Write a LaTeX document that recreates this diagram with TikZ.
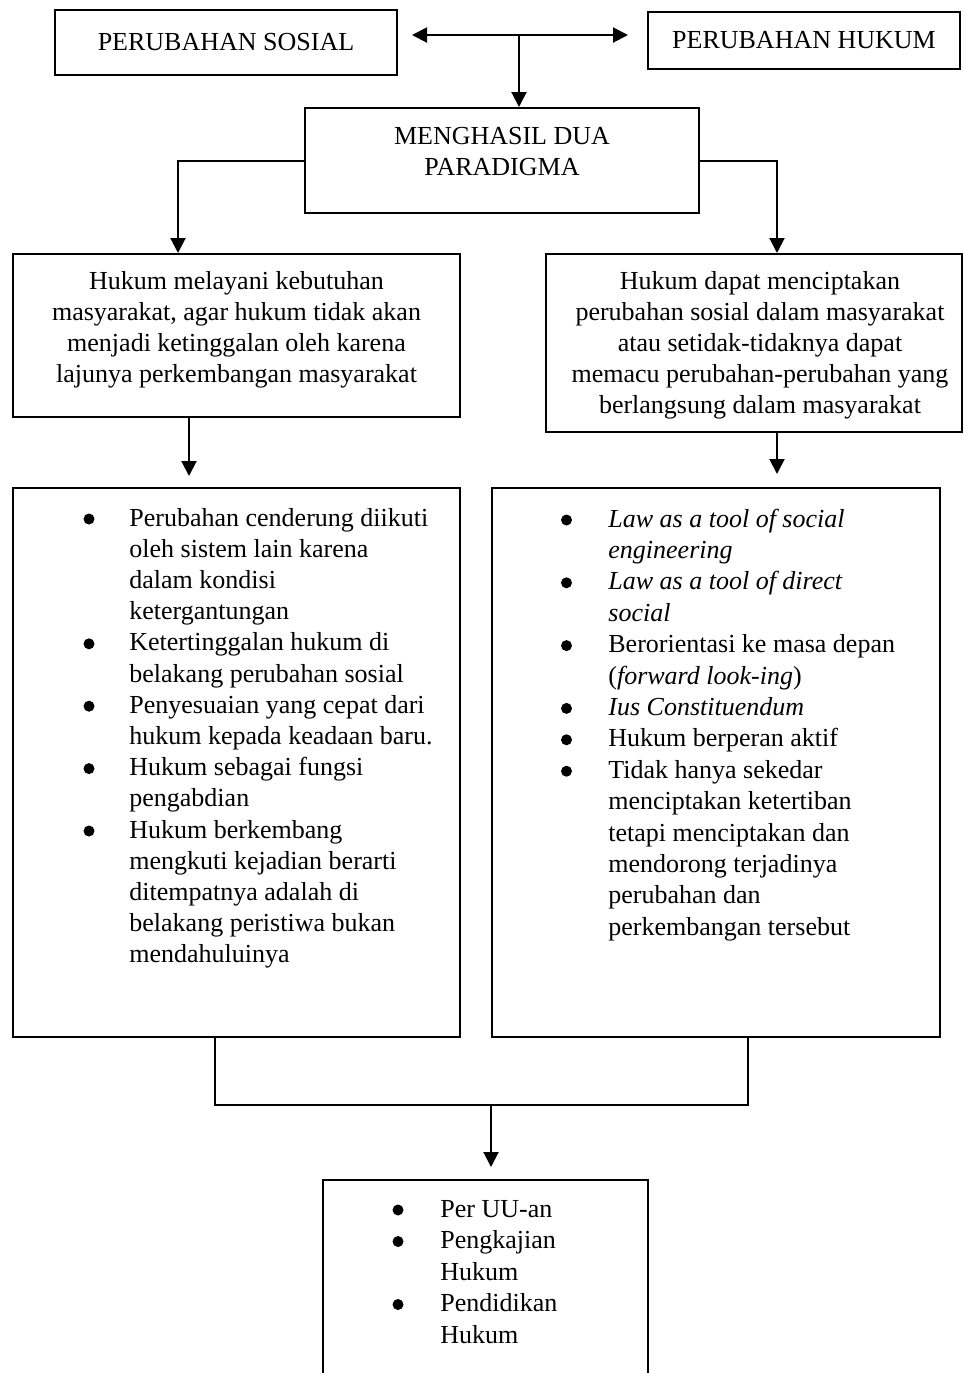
\documentclass[tikz,border=0pt]{standalone}
\usepackage{fontspec}
\setmainfont{Liberation Serif}
\usetikzlibrary{arrows.meta,calc}

\begin{document}
\begin{tikzpicture}[x=0.5pt,y=-0.5pt,
  box/.style={draw,line width=1pt,inner sep=0pt},
  txt/.style={inner sep=0pt,font=\fontsize{13}{15.6}\selectfont},
  conn/.style={line width=1pt},
  tip/.style={-{Triangle[length=7.5pt,width=7.5pt]}},
  arr/.style={conn,tip},
  darr/.style={conn,{Triangle[length=7.5pt,width=7.5pt]}-{Triangle[length=7.5pt,width=7.5pt]}},
  dot/.style={fill=black}]

\useasboundingbox (0,0) rectangle (964,1373);
\clip (0,0) rectangle (964,1373);
\fill[white] (0,0) rectangle (964,1373);

% top row
\node[box,txt,minimum width=171pt,minimum height=32.5pt] (sos) at (226,42.5) {PERUBAHAN SOSIAL};
\node[box,txt,minimum width=156pt,minimum height=28.5pt] (hk) at (804,40.5) {PERUBAHAN HUKUM};

% paradigm box
\node[box,minimum width=197pt,minimum height=52.5pt] (par) at (502,160.5) {};
\node[txt,anchor=base] (part) at (502,144.5) {\begin{tabular}[t]{@{}c@{}}MENGHASIL DUA\\PARADIGMA\end{tabular}};

% second row
\node[box,minimum width=223.5pt,minimum height=81.5pt] (l1) at (236.5,335.5) {};
\node[txt,anchor=base] (l1t) at (236.5,289) {\begin{tabular}[t]{@{}c@{}}
Hukum melayani kebutuhan\\
masyarakat, agar hukum tidak akan\\
menjadi ketinggalan oleh karena\\
lajunya perkembangan masyarakat\end{tabular}};

\node[box,minimum width=208pt,minimum height=89pt] (r1) at (754,343) {};
\node[txt,anchor=base] (r1t) at (760,289) {\begin{tabular}[t]{@{}c@{}}
Hukum dapat menciptakan\\
perubahan sosial dalam masyarakat\\
atau setidak-tidaknya dapat\\
memacu perubahan-perubahan yang\\
berlangsung dalam masyarakat\end{tabular}};

% third row: left list
\node[box,minimum width=223.5pt,minimum height=274.5pt] (l2) at (236.5,762.5) {};
\node[txt,anchor=base west] (l2t) at (129,526) {\begin{tabular}[t]{@{}l@{}}
Perubahan cenderung diikuti\\
oleh sistem lain karena\\
dalam kondisi\\
ketergantungan\\
Ketertinggalan hukum di\\
belakang perubahan sosial\\
Penyesuaian yang cepat dari\\
hukum kepada keadaan baru.\\
Hukum sebagai fungsi\\
pengabdian\\
Hukum berkembang\\
mengkuti kejadian berarti\\
ditempatnya adalah di\\
belakang peristiwa bukan\\
mendahuluinya\end{tabular}};
\foreach \k in {0,4,6,8,10}
  \fill[dot] (89,{519+31.2*\k}) circle[radius=2.75pt];

% third row: right list
\node[box,minimum width=224pt,minimum height=274.5pt] (r2) at (716,762.5) {};
\node[txt,font=\fontsize{13}{15.7}\selectfont,anchor=base west] (r2t) at (608,527) {\begin{tabular}[t]{@{}l@{}}
\textit{Law as a tool of social}\\
\textit{engineering}\\
\textit{Law as a tool of direct}\\
\textit{social}\\
Berorientasi ke masa depan\\
(\textit{forward look-ing})\\
\textit{Ius Constituendum}\\
Hukum berperan aktif\\
Tidak hanya sekedar\\
menciptakan ketertiban\\
tetapi menciptakan dan\\
mendorong terjadinya\\
perubahan dan\\
perkembangan tersebut\end{tabular}};
\foreach \k in {0,2,4,6,7,8}
  \fill[dot] (566.5,{520+31.4*\k}) circle[radius=2.75pt];

% bottom box (runs past the lower edge)
\node[box,minimum width=162.5pt,minimum height=110pt] (bt) at (485.5,1290) {};
\node[txt,font=\fontsize{13}{15.75}\selectfont,anchor=base west] (btt) at (440,1217) {\begin{tabular}[t]{@{}l@{}}
Per UU-an\\
Pengkajian\\
Hukum\\
Pendidikan\\
Hukum\end{tabular}};
\foreach \k in {0,1,3}
  \fill[dot] (398,{1210+31.5*\k}) circle[radius=2.75pt];

% connectors
\coordinate (dl) at (412,35);
\coordinate (dr) at (628,35);
\coordinate (j) at (519,35);
\draw[darr] (dl) -- (dr);
\draw[arr] (j) -- (j |- par.north);

\draw[arr] (par.west) -| ($(l1.north)+(-58.5,0)$);
\draw[arr] (par.east) -| ($(r1.north)+(23,0)$);

\draw[arr,shorten >=5.5pt] ($(l1.south)+(-47.5,0)$) -- ($(l2.north)+(-47.5,0)$);
\draw[arr,shorten >=6.5pt] ($(r1.south)+(23,0)$) -- ($(r2.north)+(61,0)$);

\draw[conn] ($(l2.south)+(-21.5,0)$) -- ++(0,67) -| ($(r2.south)+(32,0)$);
\coordinate (m) at (491,1104);
\draw[arr,shorten >=6pt] (m) -- (m |- bt.north);

\end{tikzpicture}
\end{document}
